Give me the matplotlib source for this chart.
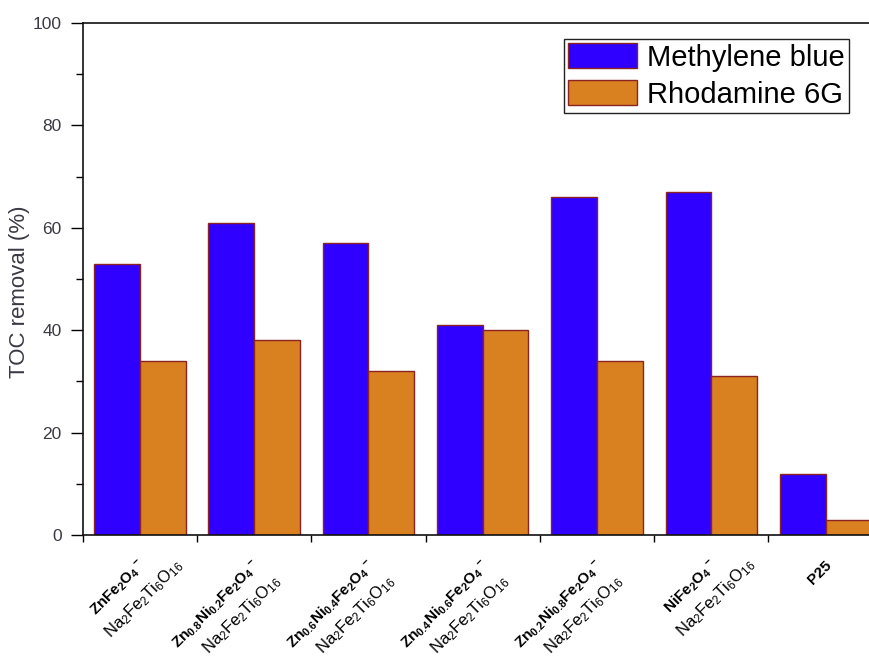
import numpy as np
import matplotlib
matplotlib.use("Agg")
import matplotlib.pyplot as plt

plt.rcParams["font.family"] = ["Liberation Sans", "DejaVu Sans"]
plt.rcParams["mathtext.default"] = "regular"

# TOC removal (%) for each catalyst
samples = ["ZnFe$_2$O$_4$$^-$",
           "Zn$_{0.8}$Ni$_{0.2}$Fe$_2$O$_4$$^-$",
           "Zn$_{0.6}$Ni$_{0.4}$Fe$_2$O$_4$$^-$",
           "Zn$_{0.4}$Ni$_{0.6}$Fe$_2$O$_4$$^-$",
           "Zn$_{0.2}$Ni$_{0.8}$Fe$_2$O$_4$$^-$",
           "NiFe$_2$O$_4$$^-$",
           "P25"]
support = ["Na$_2$Fe$_2$Ti$_6$O$_{16}$"] * 6 + [""]
methylene_blue = [53, 61, 57, 41, 66, 67, 12]
rhodamine_6g = [34, 38, 32, 40, 34, 31, 3]

W, H, DPI = 869, 661, 100
fig = plt.figure(figsize=(W / DPI, H / DPI), dpi=DPI)
ax_left, ax_bottom, ax_w, ax_h = 82.7, 126, 800, 512
ax = fig.add_axes([ax_left / W, ax_bottom / H, ax_w / W, ax_h / H])

blue = "#2f00ff"
orange = "#d98020"
edge = "#8b2323"

x = np.arange(len(samples))
ax.bar(x + 0.1, methylene_blue, width=0.4, align="edge", color=blue,
       edgecolor=edge, linewidth=1.0, label="Methylene blue")
ax.bar(x + 0.5, rhodamine_6g, width=0.4, align="edge", color=orange,
       edgecolor=edge, linewidth=1.0, label="Rhodamine 6G")

ax.set_xlim(0, len(samples))
ax.set_ylim(0, 100)
ax.set_xticks(np.arange(len(samples) + 1))
ax.set_xticklabels([])
ax.set_yticks(np.arange(0, 101, 20))
ax.set_yticks(np.arange(10, 100, 20), minor=True)
ax.tick_params(axis="y", which="major", direction="out", length=9, width=1,
               labelsize=12.5, labelcolor="#3a3a44", pad=6)
ax.tick_params(axis="y", which="minor", direction="out", length=5, width=1)
ax.tick_params(axis="x", which="major", direction="out", length=5, width=1)
ax.spines["right"].set_visible(False)
for s in ("left", "bottom", "top"):
    ax.spines[s].set_linewidth(1.2)
    ax.spines[s].set_color("#111111")

ax.set_ylabel("TOC removal (%)", fontsize=16, color="#3a3a44")
ax.yaxis.set_label_coords(-0.066, 0.475)

leg = ax.legend(loc="upper left", bbox_to_anchor=(564 / W, 1 - 39 / H),
                bbox_transform=fig.transFigure, fontsize=21, frameon=True,
                fancybox=False, framealpha=1, edgecolor="#222222",
                borderpad=0.15, borderaxespad=0, handlelength=2.35,
                handleheight=0.92, handletextpad=0.35, labelspacing=0.3)
leg.get_frame().set_linewidth(1.0)

# Two-line rotated category labels, centred on each other
renderer = fig.canvas.get_renderer()
c45 = np.cos(np.pi / 4)
size1, size2 = 11, 12
gap = 25      # spacing between the two lines, perpendicular to the text
shift = 10    # extra slide of the second line along the text direction
ox, oy = 4, -28
for i, (top, bottom) in enumerate(zip(samples, support)):
    cx = i + 0.5
    ax.annotate(top, xy=(cx, 0), xycoords=("data", "axes fraction"),
                xytext=(ox, oy), textcoords="offset pixels",
                rotation=45, rotation_mode="anchor", ha="right", va="center",
                fontsize=size1, fontweight="bold", color="black")
    if bottom:
        probe = fig.text(0, 0, top, fontsize=size1, fontweight="bold")
        w1 = probe.get_window_extent(renderer).width
        probe.remove()
        along = -w1 / 2 + shift
        mx = ox + along * c45 + gap * c45
        my = oy + along * c45 - gap * c45
        ax.annotate(bottom, xy=(cx, 0), xycoords=("data", "axes fraction"),
                    xytext=(mx, my), textcoords="offset pixels",
                    rotation=45, rotation_mode="anchor", ha="center",
                    va="center", fontsize=size2, color="black")

fig.savefig("out.png", dpi=DPI)
